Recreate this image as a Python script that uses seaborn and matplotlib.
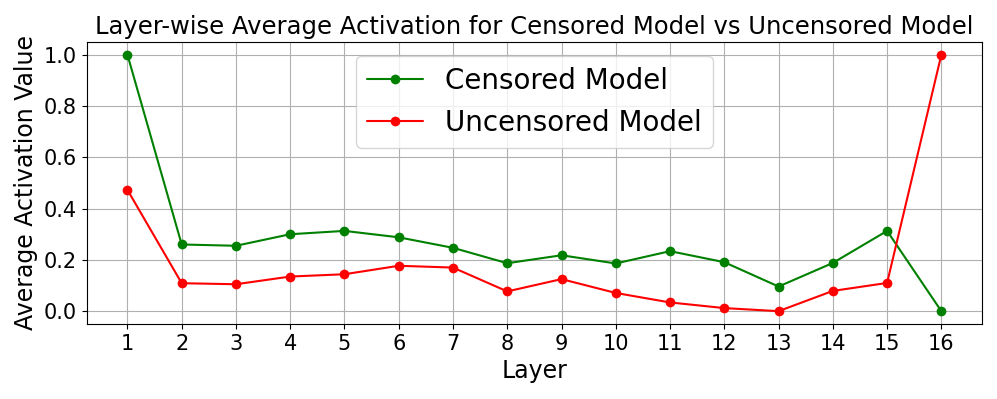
import numpy as np
import pandas as pd
import matplotlib
matplotlib.use("Agg")
import matplotlib.pyplot as plt
import seaborn as sns

layers = list(range(1, 17))
censored = [1.0, 0.260, 0.255, 0.300, 0.313, 0.288, 0.247, 0.187,
            0.218, 0.186, 0.234, 0.191, 0.096, 0.188, 0.313, 0.0]
uncensored = [0.473, 0.109, 0.105, 0.135, 0.144, 0.177, 0.170, 0.077,
              0.125, 0.071, 0.034, 0.012, 0.0, 0.079, 0.110, 1.0]

df = pd.DataFrame({
    "Layer": layers * 2,
    "Value": censored + uncensored,
    "Model": ["Censored Model"] * 16 + ["Uncensored Model"] * 16,
})

sns.set_style("ticks")
plt.rcParams["font.family"] = ["DejaVu Sans"]
plt.rcParams.update({"text.color": "black", "axes.labelcolor": "black",
                     "xtick.color": "black", "ytick.color": "black"})

fig, ax = plt.subplots(figsize=(9.97, 3.99), dpi=100)
sns.lineplot(data=df, x="Layer", y="Value", hue="Model",
             palette={"Censored Model": "green", "Uncensored Model": "red"},
             marker="o", markersize=7, markeredgewidth=0, linewidth=1.5, ax=ax)

ax.set_title("Layer-wise Average Activation for Censored Model vs Uncensored Model", fontsize=17.5)
ax.set_xlabel("Layer", fontsize=17)
ax.set_ylabel("Average Activation Value", fontsize=17)
ax.set_xticks(layers)
ax.tick_params(labelsize=15)
ax.grid(True, color="#b0b0b0", linewidth=0.8)
for s in ax.spines.values():
    s.set_color("black")
ax.legend(loc="upper center", fontsize=20, title=None)

fig.subplots_adjust(left=0.087, right=0.985, top=0.895, bottom=0.188)
fig.savefig("out.png")
